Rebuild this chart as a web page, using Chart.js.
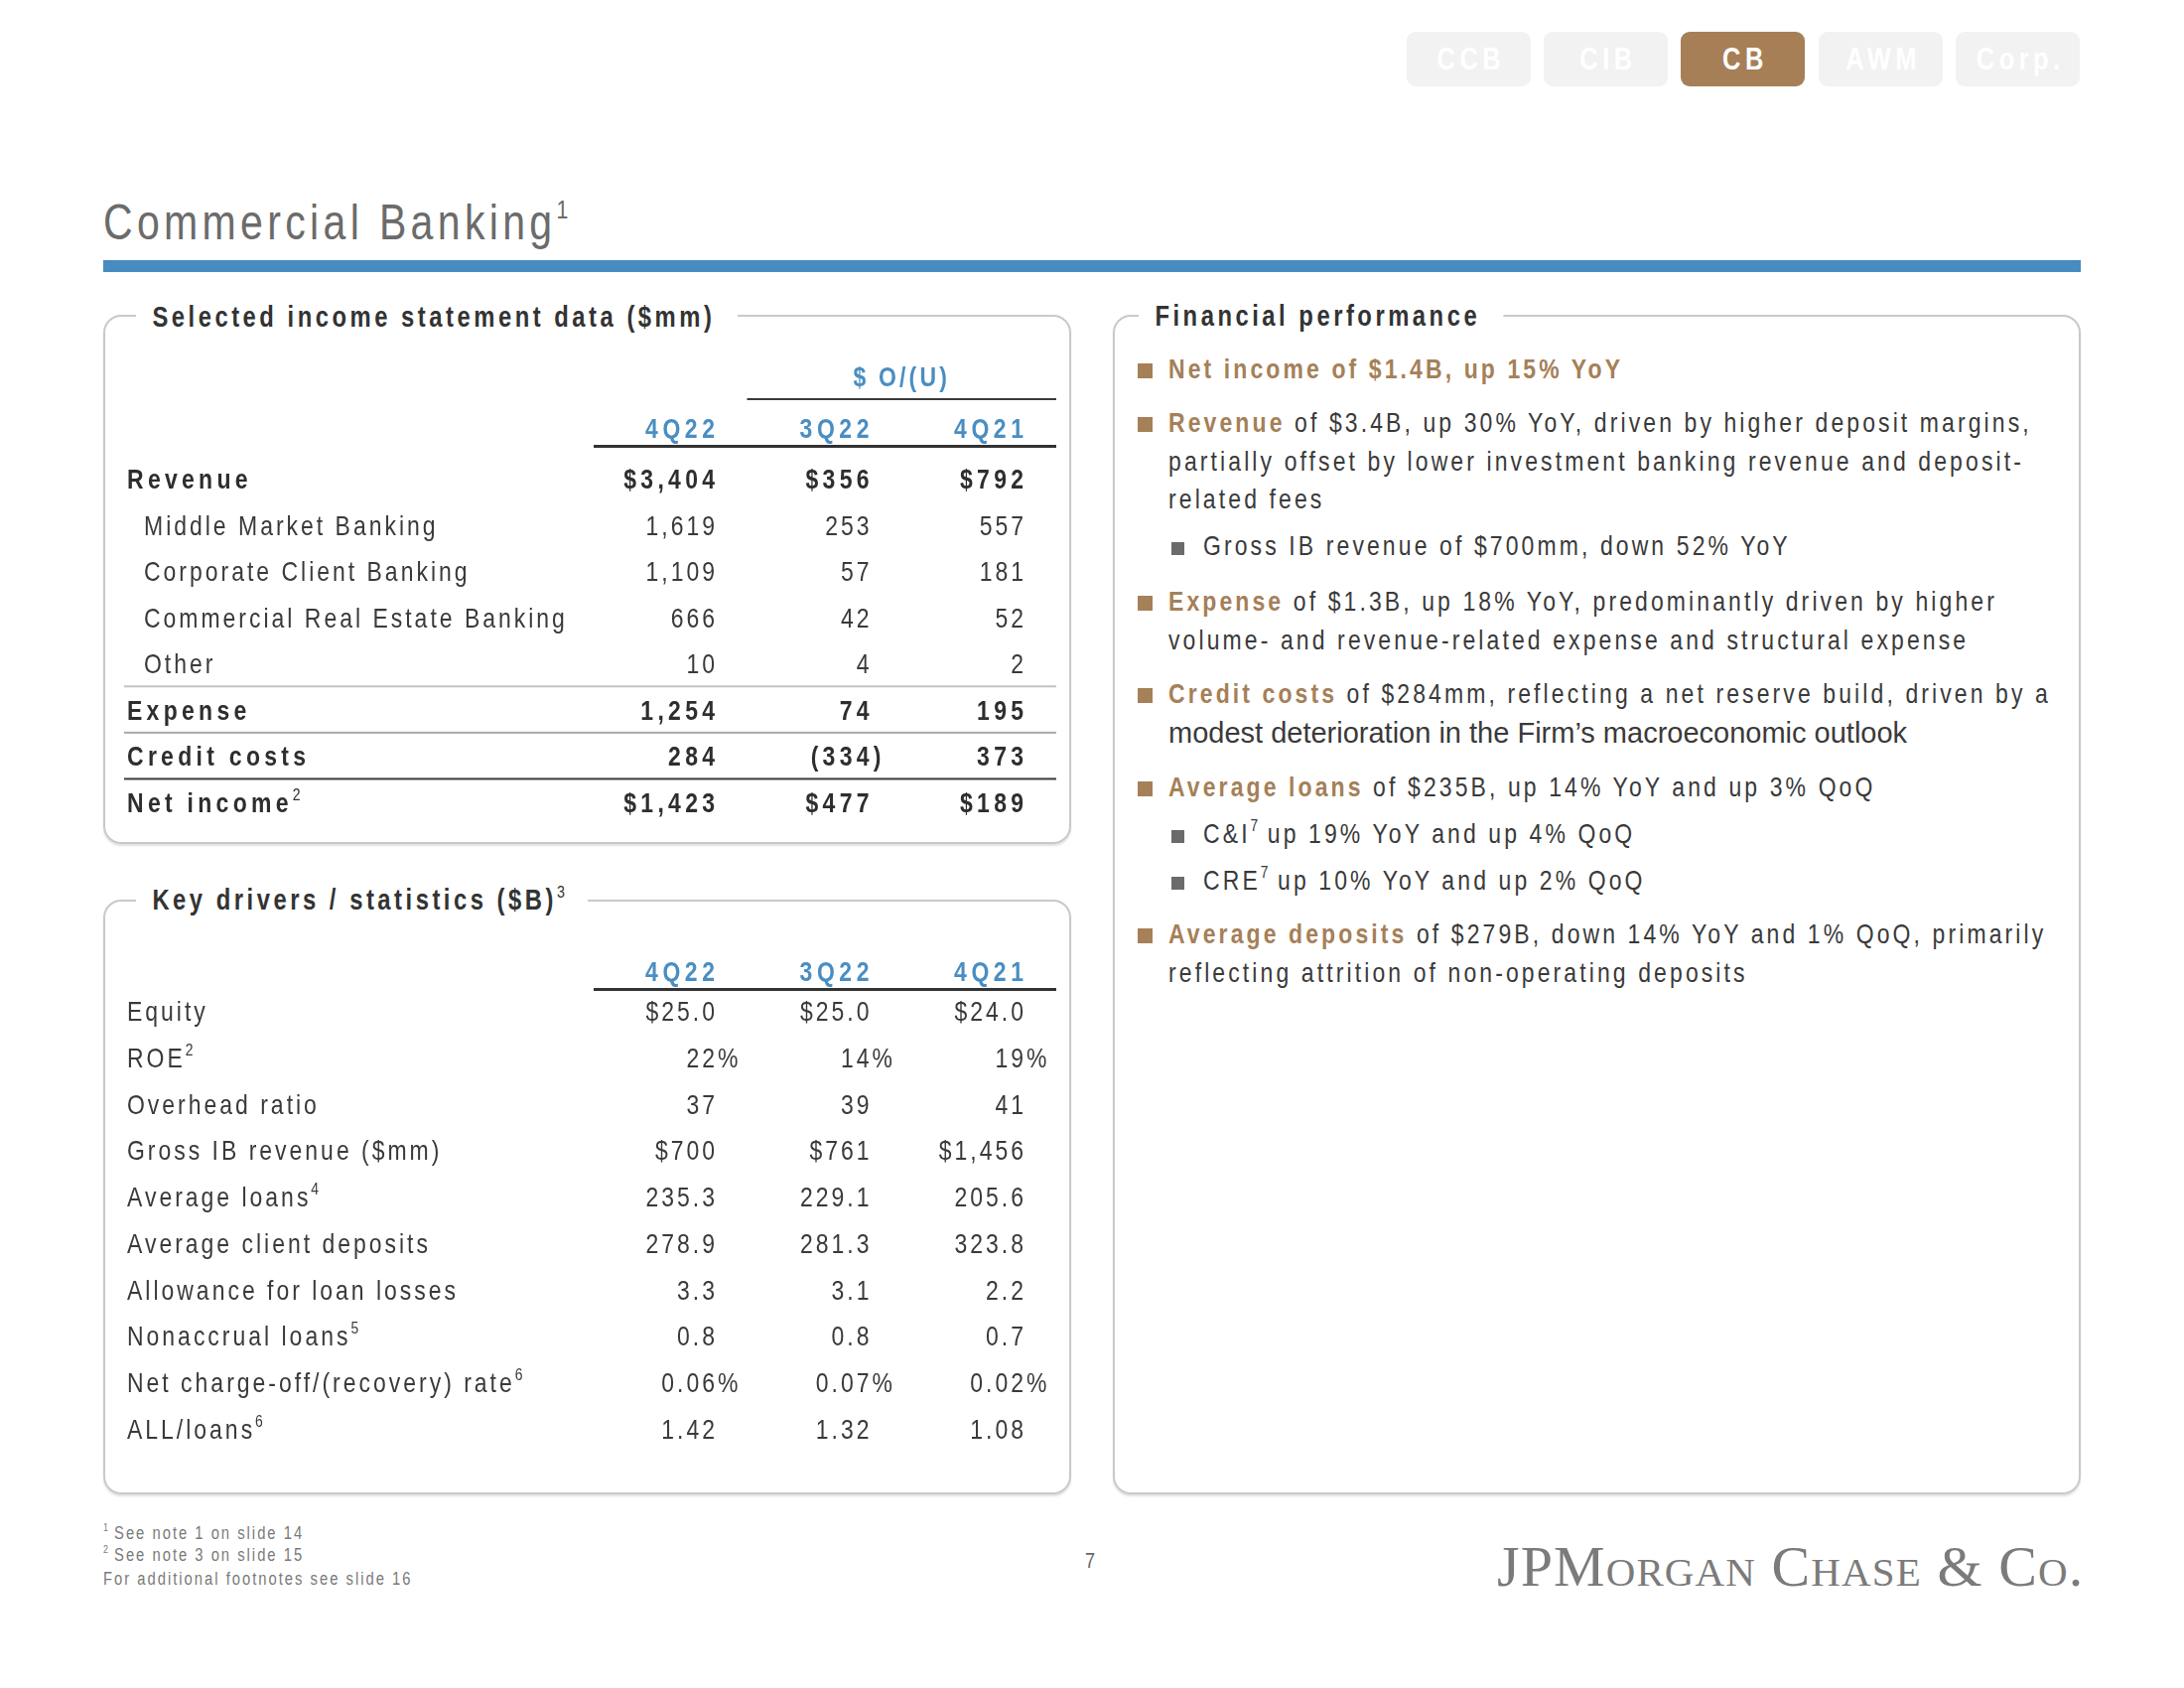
<!DOCTYPE html>
<html>
<head>
<meta charset="utf-8">
<script src="https://cdn.jsdelivr.net/npm/chart.js@4.4.0/dist/chart.umd.min.js"></script>
<style>
  html, body { margin: 0; padding: 0; background: #fff; }
  #slide {
    position: relative; width: 2200px; height: 1700px; overflow: hidden;
    font-family: "Liberation Sans", Arial, sans-serif; color: #3a3a3a;
  }
  /* Arial Narrow look: Liberation Sans squeezed to 82% */
  .abs { position: absolute; white-space: nowrap; line-height: 1; transform: scaleX(0.82); transform-origin: 0 0; }
  .tab {
    position: absolute; top: 32px; width: 125px; height: 55px; border-radius: 9px;
    background: #f2f2f2; color: #fff; font-weight: bold; font-size: 31px;
    text-align: center; line-height: 55px;
  }
  .tab span { display: inline-block; transform: scaleX(0.82); letter-spacing: 5.5px; margin-right: -5.5px; }
  .tab.on { background: #a67f57; }
  .box {
    position: absolute; box-sizing: border-box; border: 2px solid #c9c9c9;
    border-radius: 18px; box-shadow: 0 2px 2px rgba(0,0,0,0.12);
  }
  .boxtitle {
    position: absolute; white-space: nowrap; line-height: 1; font-size: 29px;
    font-weight: bold; letter-spacing: 4.3px; color: #333; background: #fff;
    padding: 0 28px 0 20px; transform: scaleX(0.82); transform-origin: 0 0;
  }
  .sup { font-size: 60%; position: relative; top: -0.7em; letter-spacing: 0; font-weight: normal; }
  .para {
    position: absolute; left: 1177px; white-space: nowrap; font-size: 28px;
    line-height: 38.5px; letter-spacing: 3.8px; color: #3a3a3a;
    transform: scaleX(0.82); transform-origin: 0 0;
  }
  .para b { color: #a58058; }
  .para.sub { left: 1212px; }
  .para .wide { display: inline-block; transform: scaleX(1.2195); transform-origin: 0 50%; letter-spacing: 0; font-size: 29px; }
  .bul { position: absolute; left: 1146px; width: 15px; height: 15px; background: #a58058; }
  .bul.g { left: 1180px; background: #6b6b6b; width: 13px; height: 13px; }
  .foot { font-size: 18px; color: #7a7a7a; letter-spacing: 2.45px; }
  canvas { position: absolute; left: 0; top: 0; }
</style>
</head>
<body>
<div id="slide">
  <div class="tab" style="left:1417px"><span>CCB</span></div>
  <div class="tab" style="left:1555px"><span>CIB</span></div>
  <div class="tab on" style="left:1693px"><span>CB</span></div>
  <div class="tab" style="left:1832px"><span>AWM</span></div>
  <div class="tab" style="left:1970px"><span>Corp.</span></div>

  <div class="abs" style="left:104px; top:199px; font-size:50px; color:#6b6b6b; letter-spacing:5.3px">Commercial Banking<span class="sup" style="font-size:52%; top:-0.8em">1</span></div>
  <div style="position:absolute; left:104px; top:262px; width:1992px; height:12px; background:#478cc0"></div>

  <div class="box" style="left:104px; top:317px; width:975px; height:533px"></div>
  <div class="boxtitle" style="left:137px; top:305px">Selected income statement data ($mm)</div>

  <div class="box" style="left:104px; top:906px; width:975px; height:599px"></div>
  <div class="boxtitle" style="left:137px; top:892px">Key drivers / statistics ($B)<span class="sup">3</span></div>

  <div class="box" style="left:1121px; top:317px; width:975px; height:1188px"></div>
  <div class="boxtitle" style="left:1147px; top:304px">Financial performance</div>

  <div class="bul" style="top:366px"></div>
  <div class="para" style="top:353px"><b>Net income of $1.4B, up 15% YoY</b></div>

  <div class="bul" style="top:420px"></div>
  <div class="para" style="top:407px"><b>Revenue</b> of $3.4B, up 30% YoY, driven by higher deposit margins,<br>partially offset by lower investment banking revenue and deposit-<br>related fees</div>

  <div class="bul g" style="top:546px"></div>
  <div class="para sub" style="top:531px">Gross IB revenue of $700mm, down 52% YoY</div>

  <div class="bul" style="top:600px"></div>
  <div class="para" style="top:587px"><b>Expense</b> of $1.3B, up 18% YoY, predominantly driven by higher<br>volume- and revenue-related expense and structural expense</div>

  <div class="bul" style="top:693px"></div>
  <div class="para" style="top:680px"><b>Credit costs</b> of $284mm, reflecting a net reserve build, driven by a<br><span class="wide">modest deterioration in the Firm’s macroeconomic outlook</span></div>

  <div class="bul" style="top:787px"></div>
  <div class="para" style="top:774px"><b>Average loans</b> of $235B, up 14% YoY and up 3% QoQ</div>

  <div class="bul g" style="top:836px"></div>
  <div class="para sub" style="top:821px">C&amp;I<span class="sup">7</span> up 19% YoY and up 4% QoQ</div>

  <div class="bul g" style="top:883px"></div>
  <div class="para sub" style="top:868px">CRE<span class="sup">7</span> up 10% YoY and up 2% QoQ</div>

  <div class="bul" style="top:935px"></div>
  <div class="para" style="top:922px"><b>Average deposits</b> of $279B, down 14% YoY and 1% QoQ, primarily<br>reflecting attrition of non-operating deposits</div>

  <div class="abs foot" style="left:104px; top:1535px"><span class="sup">1</span> See note 1 on slide 14</div>
  <div class="abs foot" style="left:104px; top:1557px"><span class="sup">2</span> See note 3 on slide 15</div>
  <div class="abs foot" style="left:104px; top:1581px">For additional footnotes see slide 16</div>
  <div class="abs" style="left:1093px; top:1561px; font-size:22px; color:#666">7</div>

  <div style="position:absolute; white-space:nowrap; line-height:1; left:1508px; top:1549px; font-size:58px; color:#7b7b7b; font-family:'Liberation Serif','DejaVu Serif',serif; font-variant:small-caps; letter-spacing:1.1px">JPMorgan Chase &amp; Co.</div>

  <canvas id="income" width="2200" height="1700"></canvas>
  <canvas id="drivers" width="2200" height="1700"></canvas>
</div>

<script>
// table data
const quarters = ['4Q22', '3Q22', '4Q21'];

const incomeRows = ['Revenue', 'Middle Market Banking', 'Corporate Client Banking',
    'Commercial Real Estate Banking', 'Other', 'Expense', 'Credit costs', 'Net income'];
const incomeNotes = ['', '', '', '', '', '', '', '2'];
const income4Q22 = [3404, 1619, 1109, 666, 10, 1254, 284, 1423];
const income3Q22 = [356, 253, 57, 42, 4, 74, -334, 477];
const income4Q21 = [792, 557, 181, 52, 2, 195, 373, 189];

const driverRows = ['Equity', 'ROE', 'Overhead ratio', 'Gross IB revenue ($mm)', 'Average loans',
    'Average client deposits', 'Allowance for loan losses', 'Nonaccrual loans',
    'Net charge-off/(recovery) rate', 'ALL/loans'];
const driverNotes = ['', '2', '', '', '4', '', '', '5', '6', '6'];
const drivers4Q22 = [25.0, 22, 37, 700, 235.3, 278.9, 3.3, 0.8, 0.06, 1.42];
const drivers3Q22 = [25.0, 14, 39, 761, 229.1, 281.3, 3.1, 0.8, 0.07, 1.32];
const drivers4Q21 = [24.0, 19, 41, 1456, 205.6, 323.8, 2.2, 0.7, 0.02, 1.08];

const FONT = '"Liberation Sans", Arial, sans-serif';
const SX = 0.82;          // horizontal squeeze, narrow face
const BLUE = '#4a8ec2';

function num(v, dec) {
    return Math.abs(v).toLocaleString('en-US', { minimumFractionDigits: dec, maximumFractionDigits: dec });
}

// income rows: $ on revenue and net income, negatives in brackets
function fmtIncome(v, row) {
    const pre = (row === 0 || row === 7) ? '$' : '';
    const s = num(v, 0);
    return v < 0 ? { main: '(' + pre + s, hang: ')' } : { main: pre + s, hang: '' };
}

// driver rows: [prefix, decimals, percent]
const driverFmt = [['$', 1, false], ['', 0, true], ['', 0, false], ['$', 0, false], ['', 1, false],
    ['', 1, false], ['', 1, false], ['', 1, false], ['', 2, true], ['', 2, false]];
function fmtDriver(v, row) {
    const [pre, dec, pct] = driverFmt[row];
    return { main: pre + num(v, dec), hang: pct ? '%' : '' };
}

// draws squeezed text, gap is the visible letter gap; returns drawn width
function text(ctx, str, x, y, align, size, bold, gap) {
    ctx.save();
    ctx.font = (bold ? 'bold ' : '') + size + 'px ' + FONT;
    ctx.letterSpacing = (gap / SX) + 'px';
    ctx.translate(x, y);
    ctx.scale(SX, 1);
    ctx.textAlign = align;
    ctx.fillText(str, align === 'right' ? gap / SX : 0, 0);
    const w = ctx.measureText(str).width * SX;
    ctx.restore();
    return w;
}

const tablePlugin = {
    id: 'tableText',
    afterDraw(chart, args, o) {
        const { ctx, chartArea } = chart;
        const xs = chart.scales.x, ys = chart.scales.y;
        const colX = quarters.map((q, j) => xs.getPixelForValue(j));
        const ruleL = colX[0] - 122, ruleR = colX[2] + 33;
        ctx.save();
        ctx.textBaseline = 'alphabetic';

        // column heads
        ctx.fillStyle = BLUE;
        const headY = chartArea.top - o.headGap;
        quarters.forEach((q, j) => text(ctx, q, colX[j], headY, 'right', 28, true, 4.6));
        if (o.overUnder) {
            text(ctx, '$ O/(U)', (colX[1] + colX[2]) / 2 - 45, headY - 52, 'center', 28, true, 3.2);
            ctx.fillStyle = '#3a3a3a';
            ctx.fillRect(colX[1] - 123, headY - 40, ruleR - (colX[1] - 123), 2);
        }
        ctx.fillStyle = '#333';
        ctx.fillRect(ruleL, headY + 7, ruleR - ruleL, 3);

        // row labels
        o.rows.forEach((r, i) => {
            const y = ys.getPixelForValue(i);
            const bold = o.bold.includes(i);
            const x = 128 + (o.indent.includes(i) ? 17 : 0);
            ctx.fillStyle = bold ? '#2e2e2e' : '#3a3a3a';
            const w = text(ctx, r, x, y, 'left', 28, bold, bold ? 4.3 : 3.0);
            if (o.notes[i]) text(ctx, o.notes[i], x + w, y - 12, 'left', 17, false, 0);
        });

        // rules between rows
        (o.rules || []).forEach(rule => {
            const y = ys.getPixelForValue(rule.after) + 12;
            ctx.fillStyle = rule.color;
            ctx.fillRect(125, y, ruleR - 125, rule.width);
        });

        // cell values, placed at the points the scatter controller computed
        chart.data.datasets.forEach((ds, j) => {
            const meta = chart.getDatasetMeta(j);
            meta.data.forEach((pt, i) => {
                const bold = o.bold.includes(i);
                const gap = bold ? 4.3 : 3.0;
                const t = o.format(ds.data[i].v, i);
                ctx.fillStyle = bold ? '#2e2e2e' : '#3a3a3a';
                text(ctx, t.main, pt.x, pt.y, 'right', 28, bold, gap);
                if (t.hang) text(ctx, t.hang, pt.x + gap, pt.y, 'left', 28, bold, gap);
            });
        });
        ctx.restore();
    }
};

function makeTable(id, rows, cols, padding, opts) {
    return new Chart(document.getElementById(id), {
        type: 'scatter',
        data: {
            datasets: cols.map((vals, j) => ({
                label: quarters[j],
                data: rows.map((r, i) => ({ x: quarters[j], y: r, v: vals[i] })),
                pointRadius: 0,
                pointHoverRadius: 0
            }))
        },
        options: {
            responsive: false,
            animation: false,
            events: [],
            layout: { padding },
            scales: {
                x: { type: 'category', labels: quarters, offset: false, display: false },
                y: { type: 'category', labels: rows, offset: false, display: false }
            },
            plugins: {
                legend: { display: false },
                tooltip: { enabled: false },
                tableText: Object.assign({ rows }, opts)
            }
        },
        plugins: [tablePlugin]
    });
}

makeTable('income', incomeRows, [income4Q22, income3Q22, income4Q21],
    { left: 720, right: 1169, top: 492, bottom: 882 },
    {
        notes: incomeNotes, bold: [0, 5, 6, 7], indent: [1, 2, 3, 4], headGap: 51,
        overUnder: true, format: fmtIncome,
        rules: [{ after: 4, color: '#c4c4c4', width: 2 }, { after: 5, color: '#a8a8a8', width: 2 },
            { after: 6, color: '#3a3a3a', width: 2 }]
    });

makeTable('drivers', driverRows, [drivers4Q22, drivers3Q22, drivers4Q21],
    { left: 720, right: 1169, top: 1028, bottom: 251 },
    { notes: driverNotes, bold: [], indent: [], headGap: 40, overUnder: false, format: fmtDriver });
</script>
</body>
</html>
